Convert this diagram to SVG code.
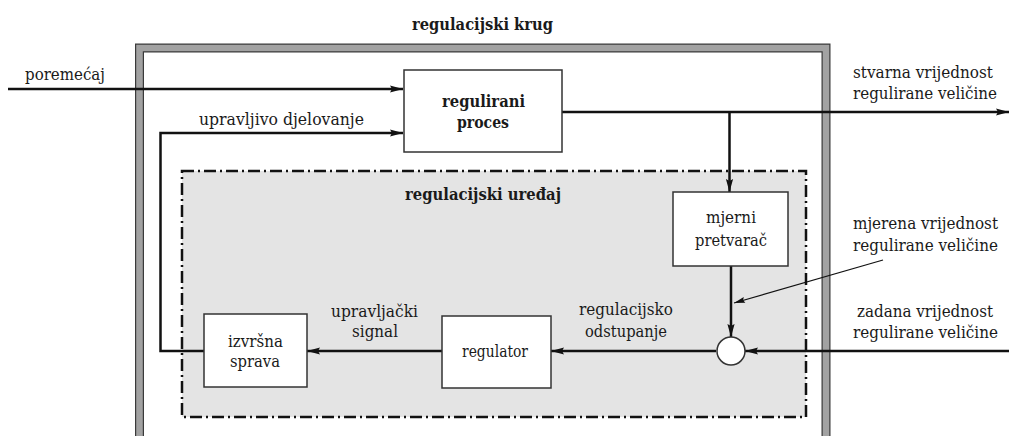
<svg xmlns="http://www.w3.org/2000/svg" width="1009" height="436" viewBox="0 0 1009 436">
<defs>
<marker id="arr" markerUnits="userSpaceOnUse" markerWidth="14" markerHeight="8" refX="13" refY="4" orient="auto" overflow="visible">
<path d="M0,0.4 L13,4 L0,7.6 L2,4 z" fill="#111"/>
</marker>
<marker id="arrs" markerUnits="userSpaceOnUse" markerWidth="12" markerHeight="6" refX="11" refY="3" orient="auto" overflow="visible">
<path d="M0,0 L11,3 L0,6 L1.5,3 z" fill="#111"/>
</marker>
<style>
text{font-family:"DejaVu Serif","Liberation Serif",serif;font-size:17px;fill:#1a1a1a;text-anchor:middle}
.b{font-weight:bold}
.r{font-size:16px}
.box{fill:#fff;stroke:#333;stroke-width:1.5}
.c{fill:none;stroke:#111;stroke-width:2.5}
.t{fill:none;stroke:#111;stroke-width:1.2}
</style>
</defs>
<rect width="1009" height="436" fill="#fff"/>
<g id="regulacijski-krug">
<path d="M139.5,440 V48 H826 V440" fill="none" stroke="#3a3a3a" stroke-width="9"/>
<path d="M139.5,440 V48 H826 V440" fill="none" stroke="#a2a2a2" stroke-width="6.6"/>
<text class="b" x="482.5" y="30" textLength="141" lengthAdjust="spacingAndGlyphs">regulacijski krug</text>
</g>
<g id="regulacijski-uredaj">
<rect x="182" y="171" width="624" height="246" fill="#e4e4e4" stroke="#111" stroke-width="2.5" stroke-dasharray="12 4 2 4"/>
<text class="b" x="483" y="200" textLength="156" lengthAdjust="spacingAndGlyphs">regulacijski uređaj</text>
</g>
<g id="connectors">
<path class="c" d="M8,89 H403" marker-end="url(#arr)"/>
<path class="c" d="M204,351 H160.5 V133 H403" marker-end="url(#arr)"/>
<path class="c" d="M562,112 H1009" marker-end="url(#arr)"/>
<path class="c" d="M729.5,112 V192" marker-end="url(#arr)"/>
<path class="c" d="M731,266 V337" marker-end="url(#arr)"/>
<path class="c" d="M1009,351 H745" marker-end="url(#arr)"/>
<path class="c" d="M716,351 H551" marker-end="url(#arr)"/>
<path class="c" d="M442,351 H307" marker-end="url(#arr)"/>
<path class="t" d="M883,260 L734,303" marker-end="url(#arrs)"/>
</g>
<g id="regulirani-proces">
<rect class="box" x="404" y="70" width="158" height="82"/>
<text class="b" x="483.5" y="107" textLength="83" lengthAdjust="spacingAndGlyphs">regulirani</text>
<text class="b" x="483" y="128" textLength="52" lengthAdjust="spacingAndGlyphs">proces</text>
</g>
<g id="mjerni-pretvarac">
<rect class="box" x="673" y="192" width="115" height="74"/>
<text x="731" y="223" textLength="50" lengthAdjust="spacingAndGlyphs">mjerni</text>
<text x="731" y="246" textLength="72" lengthAdjust="spacingAndGlyphs">pretvarač</text>
</g>
<g id="regulator">
<rect class="box" x="442" y="316" width="109" height="72"/>
<text x="495" y="357" textLength="66" lengthAdjust="spacingAndGlyphs">regulator</text>
</g>
<g id="izvrsna-sprava">
<rect class="box" x="204" y="314" width="103" height="73"/>
<text x="255.5" y="347" textLength="55" lengthAdjust="spacingAndGlyphs">izvršna</text>
<text x="255" y="367" textLength="50" lengthAdjust="spacingAndGlyphs">sprava</text>
</g>
<g id="usporedba">
<circle cx="731" cy="351" r="14" fill="#fff" stroke="#333" stroke-width="1.5"/>
</g>
<g id="labels">
<text x="65" y="80" textLength="80" lengthAdjust="spacingAndGlyphs">poremećaj</text>
<text x="281.5" y="125" textLength="165" lengthAdjust="spacingAndGlyphs">upravljivo djelovanje</text>
<text class="r" x="923" y="78" textLength="140" lengthAdjust="spacingAndGlyphs">stvarna vrijednost</text>
<text class="r" x="925" y="99" textLength="144" lengthAdjust="spacingAndGlyphs">regulirane veličine</text>
<text class="r" x="925.5" y="229" textLength="145" lengthAdjust="spacingAndGlyphs">mjerena vrijednost</text>
<text class="r" x="925.5" y="251" textLength="145" lengthAdjust="spacingAndGlyphs">regulirane veličine</text>
<text class="r" x="925" y="317" textLength="136" lengthAdjust="spacingAndGlyphs">zadana vrijednost</text>
<text class="r" x="925.5" y="338" textLength="145" lengthAdjust="spacingAndGlyphs">regulirane veličine</text>
<text x="626" y="315" textLength="94" lengthAdjust="spacingAndGlyphs">regulacijsko</text>
<text x="626" y="337" textLength="82" lengthAdjust="spacingAndGlyphs">odstupanje</text>
<text x="374.5" y="317" textLength="87" lengthAdjust="spacingAndGlyphs">upravljački</text>
<text x="375" y="337" textLength="46" lengthAdjust="spacingAndGlyphs">signal</text>
</g>
</svg>
